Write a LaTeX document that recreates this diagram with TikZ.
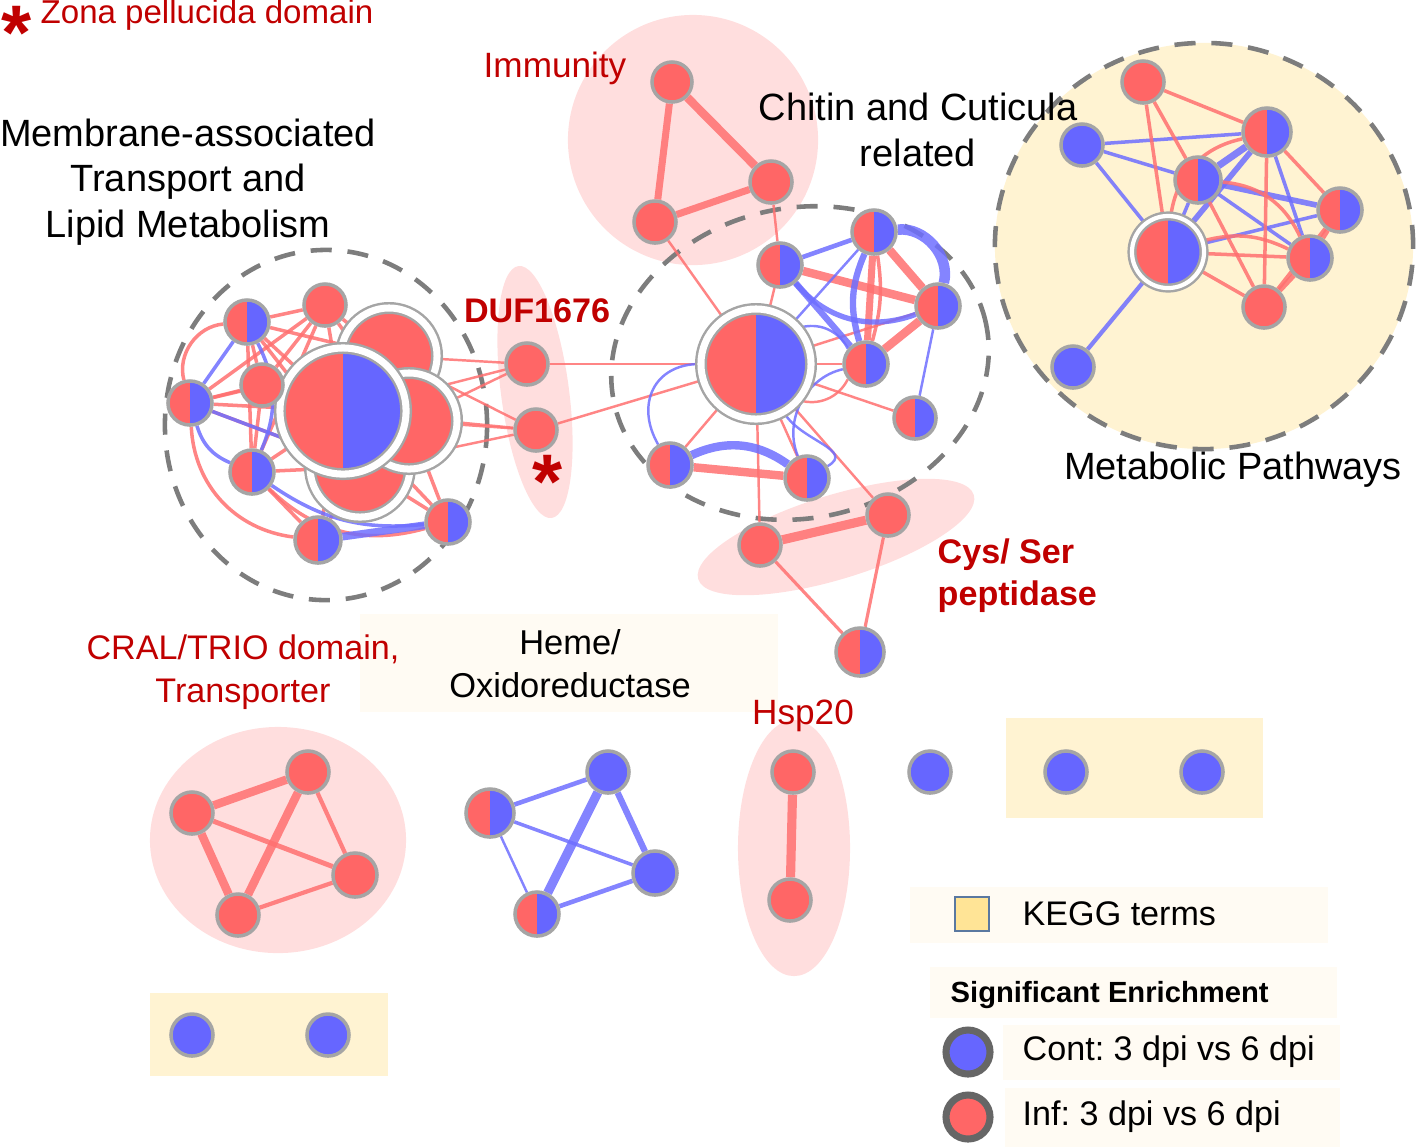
\documentclass[tikz,border=0pt]{standalone}
\usepackage{fontspec}
\setmainfont{Liberation Sans}
\frenchspacing
\definecolor{infred}{RGB}{255,102,102}
\definecolor{contblue}{RGB}{102,102,255}
\definecolor{edgered}{RGB}{255,112,112}
\definecolor{edgeblue}{RGB}{110,110,255}
\definecolor{ringgray}{RGB}{165,165,165}
\definecolor{dashgray}{RGB}{125,125,125}
\definecolor{grouppink}{RGB}{255,222,222}
\definecolor{keggbeige}{RGB}{255,243,210}
\definecolor{labelcream}{RGB}{255,251,243}
\definecolor{labelred}{RGB}{192,0,0}
\definecolor{keybox}{RGB}{255,228,150}
\definecolor{keyedge}{RGB}{90,120,160}
\pgfdeclarelayer{groups}
\pgfdeclarelayer{edges}
\pgfsetlayers{groups,edges,main}
\tikzset{
  gene/.style={circle, inner sep=0pt, minimum size=#1*0.02cm, draw=ringgray, line width=1pt},
  infnode/.style={gene=#1, fill=infred},
  contnode/.style={gene=#1, fill=contblue},
  bothnode/.style={gene=#1, fill=contblue,
    path picture={\fill[infred] (path picture bounding box.south west) rectangle (path picture bounding box.north);}},
  hubring/.style={draw=ringgray, double=white, double distance=2pt, line width=0.7pt},
  redE/.style={draw=edgered, line width=#1, draw opacity=0.85},
  redE/.default=0.6pt,
  blueE/.style={draw=edgeblue, line width=#1, draw opacity=0.85},
  blueE/.default=0.6pt,
  clusterline/.style={draw=dashgray, line width=1.3pt, dash pattern=on 6pt off 4.5pt},
  blacklabel/.style={align=center, text=black, font=\fontsize{10.8}{13}\selectfont},
  keytext/.style={anchor=west, inner sep=0pt, text=black, font=\fontsize{9.7}{12}\selectfont},
  redlabel/.style={align=center, text=labelred, font=\fontsize{10}{13}\selectfont},
  boldred/.style={align=left, text=labelred, font=\bfseries\fontsize{9.7}{12}\selectfont},
}
\begin{document}
\begin{tikzpicture}[x=0.01cm, y=-0.01cm]
\useasboundingbox (0,0) rectangle (1416,1147);

% Membrane-associated cluster
\node[infnode=48, hubring] (memBigA) at (389,356) {};
\node[infnode=50, hubring] (memBigC) at (360,467) {};
\node[infnode=48, hubring] (memBigB) at (409,421) {};
\node[bothnode=63, hubring] (memHub) at (343,411) {};
\node[bothnode=22] (memA) at (247,322) {};
\node[infnode=21] (memB) at (325,305) {};
\node[bothnode=22] (memC) at (190,403) {};
\node[infnode=21] (memD) at (262,385) {};
\node[bothnode=22] (memE) at (252,472) {};
\node[bothnode=23] (memF) at (318,540) {};
\node[bothnode=22] (memG) at (448,522) {};

% DUF1676
\node[infnode=21] (dufA) at (527,364) {};
\node[infnode=21] (dufB) at (536,430) {};

% Chitin and cuticula cluster
\node[bothnode=55, hubring] (cHub) at (756,364) {};
\node[bothnode=22] (chitA) at (780,265) {};
\node[bothnode=22] (chitB) at (874,232) {};
\node[bothnode=22] (chitC) at (938,306) {};
\node[bothnode=22] (chitD) at (866,364) {};
\node[bothnode=21] (chitE) at (915,418) {};
\node[bothnode=22] (chitF) at (670,465) {};
\node[bothnode=22] (chitG) at (807,478) {};

% Immunity
\node[infnode=20] (immA) at (672,82) {};
\node[infnode=21] (immB) at (771,182) {};
\node[infnode=21] (immC) at (655,222) {};

% Cys/Ser peptidase
\node[infnode=21] (cysA) at (760,545) {};
\node[infnode=21] (cysB) at (888,515) {};
\node[bothnode=24] (cysC) at (860,652) {};

% Metabolic pathways
\node[infnode=21] (keggA) at (1143,82) {};
\node[contnode=21] (keggB) at (1082,145) {};
\node[bothnode=24] (keggC) at (1267,132) {};
\node[bothnode=23] (keggD) at (1198,180) {};
\node[bothnode=22] (keggE) at (1340,210) {};
\node[bothnode=36, draw=ringgray, double=white, double distance=1.2pt, line width=0.7pt] (keggHub) at (1168,252) {};
\node[bothnode=22] (keggF) at (1310,258) {};
\node[infnode=21] (keggG) at (1264,307) {};
\node[contnode=21] (keggH) at (1073,367) {};

% CRAL/TRIO
\node[infnode=21] (trioA) at (192,813) {};
\node[infnode=21] (trioB) at (308,772) {};
\node[infnode=22] (trioC) at (355,875) {};
\node[infnode=21] (trioD) at (238,915) {};

% Heme/Oxidoreductase
\node[bothnode=24] (hemeA) at (490,813) {};
\node[contnode=21] (hemeB) at (608,772) {};
\node[contnode=22] (hemeC) at (655,873) {};
\node[bothnode=22] (hemeD) at (537,914) {};

% Hsp20
\node[infnode=21] (hspA) at (793,772) {};
\node[infnode=21] (hspB) at (790,900) {};

% single genes
\node[contnode=21] (soloA) at (930,772) {};
\node[contnode=21] (soloB) at (1066,772) {};
\node[contnode=21] (soloC) at (1202,772) {};
\node[contnode=21] (soloD) at (192,1035) {};
\node[contnode=21] (soloE) at (328,1035) {};

% Labels
\node[text=labelred, font=\bfseries\fontsize{22}{22}\selectfont] (zonaStar) at (17,33) {*};
\node[redlabel, anchor=west, inner sep=0pt, font=\fontsize{9.4}{12}\selectfont] (zonaText) at (40,15) {Zona pellucida domain};
\node[blacklabel] (memLabel) at (188,182) {Membrane-associated\\Transport and\\Lipid Metabolism};
\node[redlabel] (immLabel) at (555,68) {Immunity};
\node[blacklabel] (chitLabel) at (918,130) {Chitin and Cuticula\\related};
\node[blacklabel] (keggLabel) at (1233,470) {Metabolic Pathways};
\node[boldred, align=center] (dufLabel) at (537,311) {DUF1676};
\node[text=labelred, font=\bfseries\fontsize{22}{22}\selectfont] (dufStar) at (548,482) {*};
\node[boldred, anchor=west, inner sep=0pt] (cysLabel) at (937,576) {Cys/ Ser\\peptidase};
\node[redlabel, font=\fontsize{9.7}{12.2}\selectfont] (trioLabel) at (243,672) {CRAL/TRIO domain,\\Transporter};
\node[blacklabel, font=\fontsize{9.8}{12.2}\selectfont] (hemeLabel) at (570,664) {Heme/\\Oxidoreductase};
\node[redlabel] (hspLabel) at (803,716) {Hsp20};

% Legend
\node[draw=keyedge, fill=keybox, line width=0.8pt, minimum size=0.34cm, inner sep=0pt] (keyKegg) at (972,914) {};
\node[keytext] (keyKeggText) at (1022,914) {KEGG terms};
\node[anchor=west, inner sep=0pt, font=\bfseries\fontsize{8.3}{10}\selectfont] (keyTitle) at (950,995) {Significant Enrichment};
\node[contnode=22, draw=gray!80!black, line width=2pt] (keyCont) at (968,1052) {};
\node[keytext] (keyContText) at (1022,1052) {Cont: 3 dpi vs 6 dpi};
\node[infnode=22, draw=gray!80!black, line width=2pt] (keyInf) at (968,1117) {};
\node[keytext] (keyInfText) at (1022,1117) {Inf: 3 dpi vs 6 dpi};

\begin{pgfonlayer}{groups}
  % highlighted groups
  \fill[grouppink] (693,140) circle [radius=1.25cm];
  \fill[grouppink, rotate around={7.5:(535,392)}] (535,392) ellipse [x radius=0.34cm, y radius=1.27cm];
  \fill[grouppink, rotate around={17:(836,537)}] (836,537) ellipse [x radius=1.44cm, y radius=0.42cm];
  \fill[grouppink] (278,840) ellipse [x radius=1.28cm, y radius=1.13cm];
  \fill[grouppink] (794,848) ellipse [x radius=0.56cm, y radius=1.28cm];
  \fill[keggbeige] (1204,246) ellipse [x radius=2.09cm, y radius=2.03cm];
  \fill[keggbeige] (1006,718) rectangle (1263,818);
  \fill[keggbeige] (150,993) rectangle (388,1076);
  \fill[labelcream] (360,614) rectangle (778,712);
  \fill[labelcream] (910,887) rectangle (1328,943);
  \fill[labelcream] (930,967) rectangle (1337,1018);
  \fill[labelcream] (1003,1025) rectangle (1340,1080);
  \fill[labelcream] (1005,1088) rectangle (1340,1147);
  % dashed clusters
  \draw[clusterline] (326,425) ellipse [x radius=1.61cm, y radius=1.75cm];
  \draw[clusterline, rotate around={12:(800,363)}] (800,363) ellipse [x radius=1.90cm, y radius=1.55cm];
  \draw[clusterline] (1204,246) ellipse [x radius=2.09cm, y radius=2.03cm];
\end{pgfonlayer}

\begin{pgfonlayer}{edges}
  % membrane cluster
  \foreach \a/\b in {memB/memA, memB/memC, memB/memD, memB/memE, memB/memHub, memB/memBigA,
      memA/memD, memA/memHub, memA/memBigA, memA/memE, memA/memBigC, memC/memD, memC/memBigC,
      memC/memHub, memD/memHub, memD/memE, memE/memHub, memE/memBigC, memE/memF, memF/memHub,
      memF/memBigC, memG/memBigB, memG/memBigC, memG/memHub, memB/memBigB, memC/memBigA}
    \draw[redE=1pt] (\a) -- (\b);
  \draw[redE=1pt] (memA) to[bend right=50] (memC);
  \draw[redE=1pt] (memC) to[bend right=40] (memF);
  \draw[redE=1pt] (memE) to[bend right=30] (memG);
  \draw[blueE=1pt] (memA) -- (memC);
  \draw[blueE=1pt] (memC) -- (memBigC);
  \draw[blueE=1pt] (memA) to[bend left=25] (memE);
  \draw[blueE=1pt] (memC) to[bend right=25] (memE);
  \draw[blueE=1pt] (memE) to[bend right=20] (memG);
  \draw[blueE=2.2pt] (memF) -- (memG);
  % membrane cluster to DUF1676
  \foreach \a/\b in {memBigA/dufA, memBigB/dufA, memHub/dufA, memBigB/dufB, memHub/dufB,
      memBigC/dufB, memBigA/dufB, dufA/cHub, dufB/cHub}
    \draw[redE=0.7pt] (\a) -- (\b);
  % chitin cluster
  \foreach \a/\b in {cHub/chitF, cHub/chitG, cHub/chitE, cHub/chitD, cHub/chitA, cHub/chitC,
      immC/cHub, immB/chitA, cHub/cysA, cHub/cysB}
    \draw[redE=0.7pt] (\a) -- (\b);
  \draw[redE=2.4pt] (chitF) -- (chitG);
  \draw[blueE=2.4pt] (chitF) to[bend left=30] (chitG);
  \draw[blueE=0.7pt] (chitF) to[out=120, in=180, looseness=1.3] (cHub);
  \draw[blueE=0.7pt] (chitG) to[bend left=50] (chitD);
  \draw[blueE=0.7pt] (chitG) to[out=30, in=-60, looseness=1.2] (cHub);
  \draw[blueE=1.3pt] (chitA) -- (chitB);
  \draw[redE=2.4pt] (chitA) -- (chitC);
  \draw[blueE=1.8pt] (chitA) -- (chitD);
  \draw[blueE=0.7pt] (chitB) -- (cHub);
  \draw[redE=2.4pt] (chitB) -- (chitC);
  \draw[blueE=3pt] (chitB) to[bend left=55] (chitC);
  \draw[redE=2pt] (chitB) -- (chitD);
  \draw[redE=1pt] (chitB) to[bend left=12] (chitD);
  \draw[blueE=1.8pt] (chitB) to[bend right=20] (chitD);
  \draw[redE=2.4pt] (chitC) -- (chitD);
  \draw[blueE=1.5pt] (chitC) to[bend left=35] (chitA);
  \draw[blueE=0.7pt] (chitC) -- (chitE);
  \draw[blueE=0.7pt] (chitD) to[bend right=40] (cHub);
  \draw[redE=0.7pt] (chitD) to[bend left=40] (cHub);
  % cys/ser peptidase
  \draw[redE=2.6pt] (cysA) -- (cysB);
  \draw[redE=0.9pt] (cysA) -- (cysC);
  \draw[redE=0.9pt] (cysB) -- (cysC);
  % immunity
  \draw[redE=2.4pt] (immA) -- (immB);
  \draw[redE=2pt] (immA) -- (immC);
  \draw[redE=2pt] (immB) -- (immC);
  % metabolic pathways
  \draw[blueE=1.2pt] (keggHub) -- (keggH);
  \foreach \a/\b in {keggB/keggHub, keggB/keggC, keggB/keggD, keggD/keggF, keggHub/keggE,
      keggC/keggF, keggD/keggHub}
    \draw[blueE=1pt] (\a) -- (\b);
  \draw[blueE=2pt] (keggC) -- (keggD);
  \draw[blueE=1.6pt] (keggC) -- (keggHub);
  \draw[blueE=1.6pt] (keggD) -- (keggE);
  \foreach \a/\b in {keggA/keggC, keggA/keggHub, keggA/keggD, keggC/keggE, keggC/keggG,
      keggD/keggG, keggHub/keggF, keggHub/keggG}
    \draw[redE=1pt] (\a) -- (\b);
  \draw[redE=1.5pt] (keggF) -- (keggG);
  \draw[redE=1.5pt] (keggE) -- (keggF);
  \draw[redE=1pt] (keggC) to[bend right=35] (keggHub);
  \draw[redE=1pt] (keggHub) to[bend left=20] (keggF);
  \draw[redE=1pt] (keggD) to[bend left=30] (keggF);
  \draw[redE=1.2pt] (keggE) -- (keggG);
  % CRAL/TRIO
  \draw[redE=2.4pt] (trioA) -- (trioB);
  \draw[redE=2.4pt] (trioA) -- (trioD);
  \draw[redE=2.4pt] (trioB) -- (trioD);
  \draw[redE=1.4pt] (trioA) -- (trioC);
  \draw[redE=1.2pt] (trioB) -- (trioC);
  \draw[redE=1.2pt] (trioD) -- (trioC);
  % heme/oxidoreductase
  \draw[blueE=1.3pt] (hemeA) -- (hemeB);
  \draw[blueE=1pt] (hemeA) -- (hemeC);
  \draw[blueE=0.7pt] (hemeA) -- (hemeD);
  \draw[blueE=2.6pt] (hemeB) -- (hemeD);
  \draw[blueE=1.8pt] (hemeB) -- (hemeC);
  \draw[blueE=1.3pt] (hemeD) -- (hemeC);
  % hsp20
  \draw[redE=2.6pt] (hspA) -- (hspB);
\end{pgfonlayer}
\end{tikzpicture}
\end{document}
